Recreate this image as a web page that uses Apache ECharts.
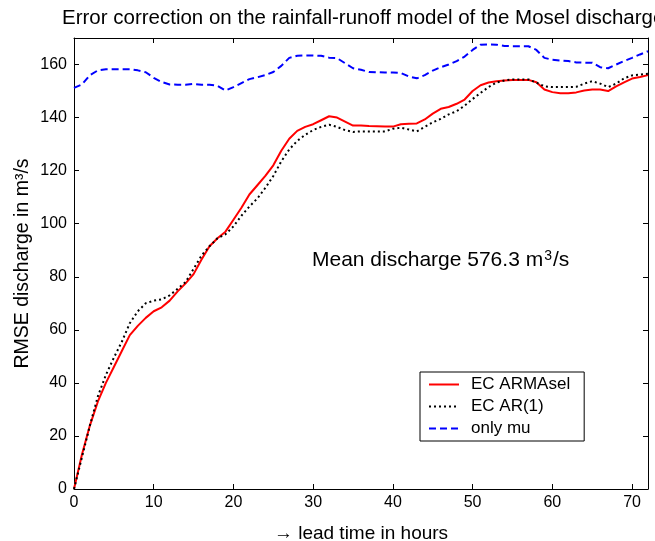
<!DOCTYPE html>
<html>
<head>
<meta charset="utf-8">
<script src="https://cdn.jsdelivr.net/npm/echarts@6/dist/echarts.min.js"></script>
<style>html,body{margin:0;padding:0;background:#fff}#c{width:655px;height:541px}</style>
</head>
<body>
<div id="c"></div>
<script>
// lead time in hours 0..72
const hours = [];
for (let h = 0; h <= 72; h++) hours.push(h);

const ecArmasel = [0,13,24,33,40,46,52,58,61.5,64.5,67,68.5,71,74.5,77.5,81,86.5,91.5,94.5,97,101.5,106,111,114.5,118,122,127.5,132,135,136.5,137.5,139,140.5,140,138.5,137,137,136.8,136.7,136.6,136.6,137.5,137.7,137.8,139.3,141.5,143.3,144,145.2,146.8,150,152.2,153.2,153.7,154,154.2,154.2,154.2,153.3,150.6,149.6,149.2,149.2,149.5,150.2,150.6,150.6,150,151.8,153.3,154.7,155.3,156];

const ecAr1 = [0,12,24,35,43,49.5,55.5,62.5,67,70,71,71.5,73,75.5,78,83,88,91.5,94.5,96,99,103,106.5,109.5,113.5,118,123.5,128,131.2,133.5,135.3,136.5,137.3,136.5,135.3,134.6,134.8,134.8,134.8,134.8,135.8,136.2,135.5,134.8,136.5,138.2,139.5,141.2,142.4,144.5,147,149.3,151.5,153.2,154,154.4,154.4,154.4,153.2,151.8,151.5,151.5,151.5,151.6,152.8,153.7,152.8,151.5,152.8,154.8,155.9,156.2,156.5];

const onlyMu = [151.2,152.5,156,157.8,158.2,158.2,158.2,158.2,157.8,157.1,155,153.4,152.5,152.4,152.4,152.7,152.4,152.4,152,150.2,151.5,153,154.5,155.2,156,157.2,159.5,162.5,163.3,163.4,163.4,163.3,162.6,162.4,160.5,158.6,158,157.2,157.1,157,157,156.8,155.5,154.8,156,157.7,159,160,161.3,163,165.5,167.5,167.6,167.5,167,166.9,166.9,166.9,165.5,162.5,161.8,161.5,161.3,160.8,160.7,160.7,159,158.6,160,161.3,162.5,163.8,165];

const seriesNames = ['EC ARMAsel', 'EC AR(1)', 'only mu'];

const pair = arr => hours.map((h, i) => [h, arr[i]]);
const FONT = 'Liberation Sans, Arial, sans-serif';

const chart = echarts.init(document.getElementById('c'), null, {renderer: 'canvas'});

const baseAxis = {
  axisLine: {show: true, onZero: false, lineStyle: {color: '#000', width: 1}},
  axisTick: {show: true, inside: true, length: 5, lineStyle: {color: '#000'}},
  splitLine: {show: false}
};

chart.setOption({
  animation: false,
  backgroundColor: '#fff',
  title: {
    text: 'Error correction on the rainfall-runoff model of the Mosel discharge',
    left: 57, top: 3,
    textStyle: {fontFamily: FONT, fontSize: 20.5, fontWeight: 'normal', color: '#000'}
  },
  grid: {left: 74, right: 7, top: 38, bottom: 52, containLabel: false, outerBoundsMode: 'none'},
  legend: {
    orient: 'vertical',
    left: 420, top: 372,
    data: seriesNames,
    backgroundColor: '#fff',
    borderColor: '#000', borderWidth: 1,
    padding: [4, 14, 4, 8],
    itemWidth: 30, itemHeight: 17, itemGap: 5,
    itemStyle: {color: 'transparent', borderWidth: 0, opacity: 0},
    textStyle: {fontFamily: FONT, fontSize: 17, color: '#000', padding: [0, 0, 0, 7]}
  },
  xAxis: [
    Object.assign({}, baseAxis, {
      type: 'value', min: 0, max: 72, interval: 10,
      name: '\u2192 lead time in hours', nameLocation: 'middle', nameGap: 35,
      nameMoveOverlap: false,
      nameTextStyle: {fontFamily: FONT, fontSize: 19, color: '#000'},
      axisLabel: {fontFamily: FONT, fontSize: 16, color: '#000', margin: 6, showMaxLabel: false}
    }),
    Object.assign({}, baseAxis, {
      type: 'value', min: 0, max: 72, interval: 10, position: 'top',
      axisLabel: {show: false}
    })
  ],
  yAxis: [
    Object.assign({}, baseAxis, {
      type: 'value', min: 0, max: 170, interval: 20,
      name: 'RMSE discharge in m\u00b3/s', nameLocation: 'middle', nameGap: 41, nameRotate: 90,
      nameMoveOverlap: false,
      nameTextStyle: {fontFamily: FONT, fontSize: 19.5, color: '#000'},
      axisLabel: {fontFamily: FONT, fontSize: 16, color: '#000', margin: 7, showMaxLabel: false}
    }),
    Object.assign({}, baseAxis, {
      type: 'value', min: 0, max: 170, interval: 20, position: 'right',
      axisLabel: {show: false}
    })
  ],
  graphic: [{
    type: 'text', left: 312, top: 249,
    style: {
      text: '{a|Mean discharge 576.3 m}{s|3}{a|/s}',
      rich: {
        a: {fontFamily: FONT, fontSize: 21, fill: '#000', color: '#000'},
        s: {fontFamily: FONT, fontSize: 14, fill: '#000', color: '#000', verticalAlign: 'top', padding: [0, 1, 8, 1]}
      }
    }
  }],
  series: [
    {
      name: seriesNames[0], type: 'line', data: pair(ecArmasel),
      showSymbol: false, symbol: 'none',
      itemStyle: {color: '#ff0000'},
      lineStyle: {color: '#ff0000', width: 2, type: 'solid'}, z: 3
    },
    {
      name: seriesNames[1], type: 'line', data: pair(ecAr1),
      showSymbol: false, symbol: 'none',
      itemStyle: {color: '#000'},
      lineStyle: {color: '#000', width: 2, type: [2, 3]}, z: 4
    },
    {
      name: seriesNames[2], type: 'line', data: pair(onlyMu),
      showSymbol: false, symbol: 'none',
      itemStyle: {color: '#0000ff'},
      lineStyle: {color: '#0000ff', width: 2, type: [7, 4]}, z: 2
    }
  ]
});
</script>
</body>
</html>
